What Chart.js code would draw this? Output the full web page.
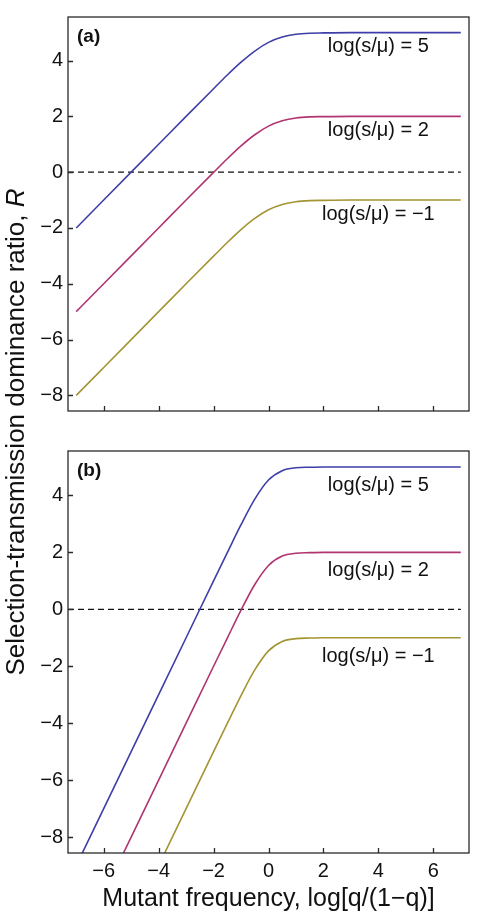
<!DOCTYPE html>
<html>
<head>
<meta charset="utf-8">
<script src="https://cdn.jsdelivr.net/npm/chart.js@4.4.1/dist/chart.umd.min.js"></script>
<style>
    body { margin: 0; background: #fff; }
    #wrap { position: relative; width: 479px; height: 922px; overflow: hidden; }
    canvas { position: absolute; left: 0; }
    #yTitle {
        position: absolute; left: -285px; top: 417px; width: 600px; height: 30px;
        line-height: 30px; text-align: center; transform: rotate(-90deg);
        font: 26px "Liberation Sans", Arial, sans-serif; color: #111; white-space: nowrap;
    }
</style>
</head>
<body>
<div id="wrap">
    <canvas id="chartA" width="479" height="430" style="top:0"></canvas>
    <canvas id="chartB" width="479" height="492" style="top:430px"></canvas>
    <div id="yTitle">Selection-transmission dominance ratio, <i>R</i></div>
</div>
<script>
// log[q/(1-q)] sample points
const xVals = [-7, -6, -5, -4, -3, -2, -1.5, -1, -0.5, 0, 0.5, 1, 1.5, 2, 3, 4, 5, 6, 7]

// panel (a)
const aBlue    = [-2, -1, 0, 1, 2, 2.99, 3.48, 3.94, 4.34, 4.65, 4.84, 4.94, 4.98, 4.99, 5, 5, 5, 5, 5]
const aMagenta = [-5, -4, -3, -2, -1, -0.01, 0.48, 0.94, 1.34, 1.65, 1.84, 1.94, 1.98, 1.99, 2, 2, 2, 2, 2]
const aOlive   = [-8, -7, -6, -5, -4, -3.01, -2.52, -2.06, -1.66, -1.35, -1.16, -1.06, -1.02, -1.01, -1, -1, -1, -1, -1]

// panel (b)
const bBlue    = [-9, -7, -5, -3, -1, 1.0, 1.99, 2.97, 3.87, 4.54, 4.87, 4.97, 4.99, 5, 5, 5, 5, 5, 5]
const bMagenta = [-12, -10, -8, -6, -4, -2.0, -1.01, -0.03, 0.87, 1.54, 1.87, 1.97, 1.99, 2, 2, 2, 2, 2, 2]
const bOlive   = [-15, -13, -11, -9, -7, -5.0, -4.01, -3.03, -2.13, -1.46, -1.13, -1.03, -1.01, -1, -1, -1, -1, -1, -1]

const plateaus = [5, 2, -1]
const curveLabels = ['log(s/\u03bc) = 5', 'log(s/\u03bc) = 2', 'log(s/\u03bc) = \u22121']
const xTicks = [-6, -4, -2, 0, 2, 4, 6]
const yTicks = [-8, -6, -4, -2, 0, 2, 4]

const colors = ['rgb(62, 62, 168)', 'rgb(176, 52, 112)', 'rgb(163, 148, 52)']
const fontFam = '"Liberation Sans", Arial, sans-serif'
const minus = (v) => String(v).replace('-', '\u2212')

const toPoints = (ys) => xVals.map((x, i) => ({ x: x, y: ys[i] }))

const framePlugin = {
    id: 'frame',
    afterDraw(chart, args, opts) {
        const { ctx, chartArea, scales } = chart
        const { left, right, top, bottom } = chartArea
        const x = scales.x, y = scales.y
        ctx.save()
        ctx.strokeStyle = '#2a2a2a'
        ctx.lineWidth = 1.3
        ctx.strokeRect(left, top, right - left, bottom - top)
        ctx.beginPath()
        x.ticks.forEach(t => {
            const px = Math.round(x.getPixelForValue(t.value)) + 0.5
            ctx.moveTo(px, bottom)
            ctx.lineTo(px, bottom - 5)
        })
        y.ticks.forEach(t => {
            const py = Math.round(y.getPixelForValue(t.value)) + 0.5
            ctx.moveTo(left, py)
            ctx.lineTo(left + 5, py)
        })
        ctx.stroke()

        ctx.fillStyle = '#111'
        ctx.font = '20px ' + fontFam
        ctx.textAlign = 'center'
        ctx.textBaseline = 'middle'
        curveLabels.forEach((txt, i) => {
            ctx.fillText(txt, x.getPixelForValue(4.0), y.getPixelForValue(plateaus[i] - opts.drop))
        })
        ctx.font = 'bold 19px ' + fontFam
        ctx.textAlign = 'left'
        ctx.fillText(opts.letter, left + 9, top + 20)
        ctx.restore()
    }
}

const makeChart = (canvasId, series, letter, drop, showX, padding) => {
    const datasets = series.map((ys, i) => ({
        data: toPoints(ys),
        borderColor: colors[i],
        borderWidth: 1.6,
        pointRadius: 0,
        cubicInterpolationMode: 'monotone',
        fill: false
    }))
    datasets.push({
        data: [{ x: -7.3, y: 0 }, { x: 7.0, y: 0 }],
        borderColor: '#111',
        borderWidth: 1.3,
        borderDash: [6, 4],
        pointRadius: 0,
        fill: false
    })
    return new Chart(document.getElementById(canvasId), {
        type: 'line',
        data: { datasets: datasets },
        plugins: [framePlugin],
        options: {
            responsive: false,
            animation: false,
            layout: { padding: padding },
            plugins: {
                legend: { display: false },
                tooltip: { enabled: false },
                frame: { letter: letter, drop: drop }
            },
            scales: {
                x: {
                    type: 'linear',
                    min: -7.3,
                    max: 7.3,
                    grid: { display: false, drawTicks: false },
                    border: { display: false },
                    afterBuildTicks: (scale) => { scale.ticks = xTicks.map(v => ({ value: v })) },
                    afterFit: (scale) => { scale.height = showX ? 69 : 0 },
                    ticks: {
                        display: showX,
                        padding: 6,
                        maxRotation: 0,
                        color: '#111',
                        font: { family: fontFam, size: 20 },
                        callback: (v) => minus(v)
                    },
                    title: {
                        display: showX,
                        text: 'Mutant frequency, log[q/(1\u2212q)]',
                        color: '#111',
                        font: { family: fontFam, size: 25 },
                        padding: { top: 0, bottom: 8 }
                    }
                },
                y: {
                    min: -8.56,
                    max: 5.56,
                    grid: { display: false, drawTicks: false },
                    border: { display: false },
                    afterBuildTicks: (scale) => { scale.ticks = yTicks.map(v => ({ value: v })) },
                    afterFit: (scale) => { scale.width = 28 },
                    ticks: {
                        padding: 5,
                        color: '#111',
                        font: { family: fontFam, size: 20 },
                        callback: (v) => minus(v)
                    }
                }
            }
        }
    })
}

makeChart('chartA', [aBlue, aMagenta, aOlive], '(a)', 0.5, false, { left: 40, right: 10, top: 8, bottom: 19 })
makeChart('chartB', [bBlue, bMagenta, bOlive], '(b)', 0.65, true, { left: 40, right: 10, top: 21, bottom: 0 })
</script>
</body>
</html>
